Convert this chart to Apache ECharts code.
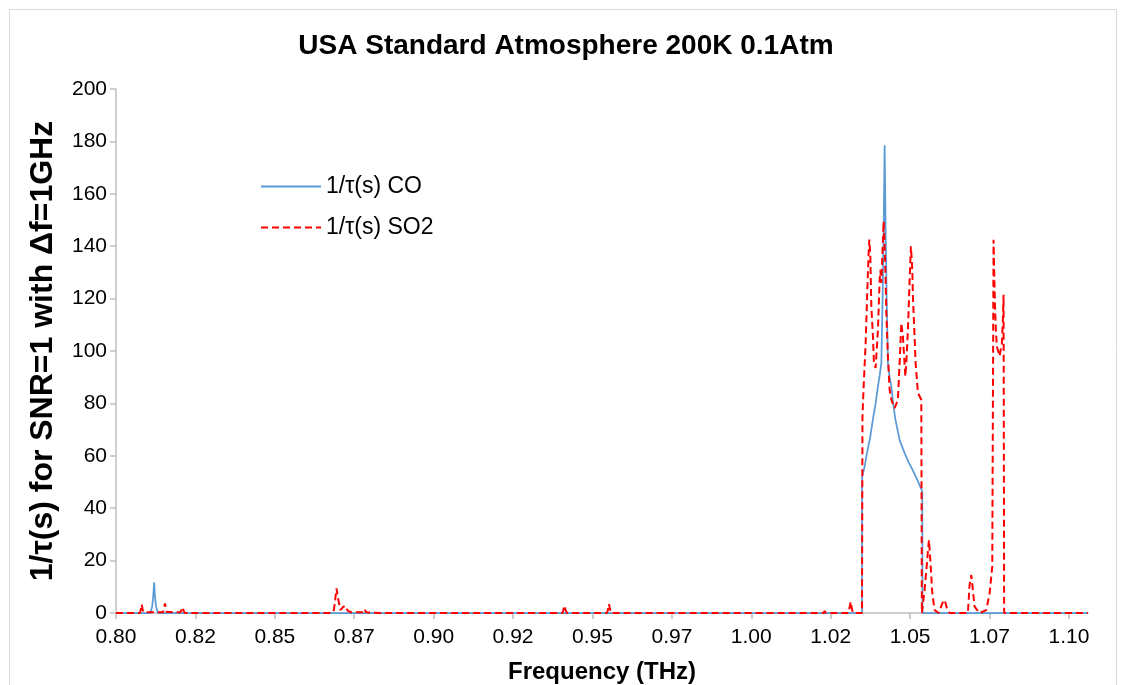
<!DOCTYPE html>
<html>
<head>
<meta charset="utf-8">
<script src="https://cdn.jsdelivr.net/npm/echarts@6/dist/echarts.min.js"></script>
<style>
html,body{margin:0;padding:0;background:#fff;}
#chart{width:1123px;height:685px;}
</style>
</head>
<body>
<div id="chart"></div>
<script>
// ---- data ----
const chartTitle = 'USA Standard Atmosphere 200K 0.1Atm';
const xAxisName = 'Frequency (THz)';
const yAxisName = '1/τ(s) for SNR=1 with Δf=1GHz';
const seriesNames = ['1/τ(s) CO', '1/τ(s) SO2'];

const xTickValues = [0.800, 0.825, 0.850, 0.875, 0.900, 0.925, 0.950, 0.975, 1.000, 1.025, 1.050, 1.075, 1.100];
const xTickLabels = ['0.80', '0.82', '0.85', '0.87', '0.90', '0.92', '0.95', '0.97', '1.00', '1.02', '1.05', '1.07', '1.10'];

const coFreq = [0.800, 0.8108, 0.8114, 0.8117, 0.8120, 0.8123, 0.8126, 0.8132,
  1.03485, 1.0349, 1.03569, 1.03641, 1.03742, 1.0383, 1.03915, 1.03987, 1.0404, 1.04094, 1.04135, 1.04167, 1.04198,
  1.04229, 1.04261, 1.04302, 1.04355, 1.04409, 1.04466, 1.04535, 1.0467, 1.04827, 1.04953, 1.05079, 1.05237, 1.05384,
  1.0539, 1.106];
const coValue = [0, 0, 2.5, 6, 11.7, 6, 2.5, 0,
  0, 52, 56, 61, 67, 74, 80, 86.5, 90.5, 95.5, 121, 146, 178.5,
  146, 121, 95.5, 90, 86.5, 80, 74, 66, 61, 57.5, 54.6, 50.5, 46.3,
  0, 0];

const so2Freq = [0.800, 0.8075, 0.8078, 0.8081, 0.8084, 0.8087, 0.8148, 0.8151, 0.8154, 0.8157, 0.8160,
  0.8203, 0.8207, 0.8210, 0.8213, 0.8217, 0.8596, 0.8600, 0.8604,
  0.8680, 0.8686, 0.8690, 0.8694, 0.8697, 0.8700, 0.8706, 0.8716, 0.8723, 0.8729, 0.8740,
  0.8780, 0.8783, 0.8787, 0.8832, 0.8836, 0.8840,
  0.9406, 0.9410, 0.9413, 0.9415, 0.9417, 0.9420, 0.9478, 0.9481, 0.9484,
  0.9546, 0.9549, 0.9552, 0.9555, 0.9558, 1.0227, 1.0231, 1.0235,
  1.0306, 1.0310, 1.0313, 1.0316, 1.0320,
  1.03485, 1.0350, 1.03537, 1.0360, 1.03653, 1.03694, 1.03716, 1.03748, 1.03779, 1.0383, 1.03861, 1.03914,
  1.03987, 1.0404, 1.04065, 1.04095, 1.04166, 1.04198, 1.04229, 1.04251, 1.04301, 1.04355, 1.04408,
  1.04512, 1.04616, 1.04669, 1.04723, 1.04742, 1.04773, 1.04849, 1.0488, 1.04931, 1.04984,
  1.05025, 1.05038, 1.05069, 1.05088, 1.05132, 1.05173, 1.05246, 1.05352, 1.0537,
  1.0543, 1.05456, 1.05529, 1.05592, 1.05636, 1.05699, 1.05771, 1.0590,
  1.05928, 1.06013, 1.06086, 1.06158, 1.06243,
  1.06819, 1.06872, 1.06926, 1.06976, 1.07029, 1.07187,
  1.07398, 1.07502, 1.07586, 1.07627, 1.07650, 1.07675, 1.0770, 1.07731, 1.07816, 1.07838,
  1.07889, 1.0792, 1.07942, 1.0796, 1.106];
const so2Value = [0, 0, 1.2, 3.3, 1.2, 0.3, 0.3, 1.5, 3.7, 1.5, 0.4,
  0.3, 1.0, 2.2, 0.8, 0, 0, 0.5, 0,
  0, 1.1, 5.0, 9.4, 9.7, 5.0, 1.1, 2.4, 2.7, 0.9, 0.3,
  0.3, 1.4, 0.3, 0, 0.5, 0,
  0, 2.0, 2.8, 1.2, 1.6, 0, 0, 0.6, 0,
  0, 1.5, 3.4, 1.5, 0, 0, 0.8, 0,
  0, 2.5, 4.3, 2.0, 0,
  0, 75, 86.5, 103, 123.4, 137.4, 142.5, 136, 117, 105.6, 95.4, 93.5,
  108, 127, 131, 126, 149.5, 140, 127, 114.6, 98, 85.2, 81.4,
  78.2, 81.4, 95.4, 110.7, 110.9, 105.6, 90.3, 95.4, 108, 127,
  140, 140.6, 131, 120.8, 108, 95.4, 84, 81.4, 0,
  0, 8.8, 19, 27.9, 20.2, 7.5, 1.1, 0,
  0, 3.7, 5, 1.8, 0,
  0, 10.7, 14.5, 8.8, 2.4, 0,
  1.1, 7.5, 17.7, 142.5, 128, 116, 108, 101.7, 98, 98.5,
  103, 112, 121.5, 0, 0];

const yMin = 0, yMax = 200, yInterval = 20;
const xMin = 0.8, xMax = 1.106;

// ---- build ----
const coData = coFreq.map((f, i) => [f, coValue[i]]);
const so2Data = so2Freq.map((f, i) => [f, so2Value[i]]);
const FONT = "'Liberation Sans', Arial, sans-serif";

const chart = echarts.init(document.getElementById('chart'), null, {renderer: 'canvas'});
chart.setOption({
  backgroundColor: '#fff',
  animation: false,
  title: {
    text: chartTitle,
    left: 561, top: 27, textAlign: 'center',
    textStyle: {fontFamily: FONT, fontSize: 28, fontWeight: 'bold', color: '#000'}
  },
  graphic: [{
    type: 'rect', left: 7, top: 7, silent: true,
    shape: {width: 1107, height: 700},
    style: {fill: 'none', stroke: '#d9d9d9', lineWidth: 1}
  }],
  legend: {
    orient: 'vertical', left: 255, top: 170, itemWidth: 60, itemHeight: 14, itemGap: 18,
    data: seriesNames,
    itemStyle: {opacity: 0},
    textStyle: {fontFamily: FONT, fontSize: 23, color: '#000'}
  },
  grid: {left: 116, right: 35, top: 89, bottom: 72, containLabel: false, outerBoundsMode: 'none'},
  xAxis: {
    type: 'value', min: xMin, max: xMax,
    name: xAxisName, nameLocation: 'middle', nameGap: 47,
    nameTextStyle: {fontFamily: FONT, fontSize: 24, fontWeight: 'bold', color: '#000'},
    axisLine: {show: true, onZero: true, lineStyle: {color: '#bfbfbf', width: 1.5}},
    axisTick: {show: true, length: 6, customValues: xTickValues, lineStyle: {color: '#bfbfbf', width: 1.5}},
    axisLabel: {
      customValues: xTickValues, margin: 14,
      fontFamily: FONT, fontSize: 21, color: '#000',
      formatter: function (v) {
        const i = xTickValues.findIndex(t => Math.abs(t - v) < 1e-6);
        return i >= 0 ? xTickLabels[i] : '';
      }
    },
    splitLine: {show: false}
  },
  yAxis: {
    type: 'value', min: yMin, max: yMax, interval: yInterval,
    name: yAxisName, nameLocation: 'middle', nameGap: 57, nameRotate: 90,
    nameTextStyle: {fontFamily: FONT, fontSize: 32, fontWeight: 'bold', color: '#000'},
    axisLine: {show: true, lineStyle: {color: '#bfbfbf', width: 1.5}},
    axisTick: {show: true, length: 6, lineStyle: {color: '#bfbfbf', width: 1.5}},
    axisLabel: {fontFamily: FONT, fontSize: 21, color: '#000', margin: 9},
    splitLine: {show: false}
  },
  series: [
    {
      name: seriesNames[0], type: 'line', data: coData, symbol: 'none', showSymbol: false,
      lineStyle: {color: '#5b9bd5', width: 1.75}, itemStyle: {color: '#5b9bd5'}, z: 2
    },
    {
      name: seriesNames[1], type: 'line', data: so2Data, symbol: 'none', showSymbol: false,
      lineStyle: {color: '#ff0000', width: 2, type: [7, 4]}, itemStyle: {color: '#ff0000'}, z: 3
    }
  ]
});
</script>
</body>
</html>
